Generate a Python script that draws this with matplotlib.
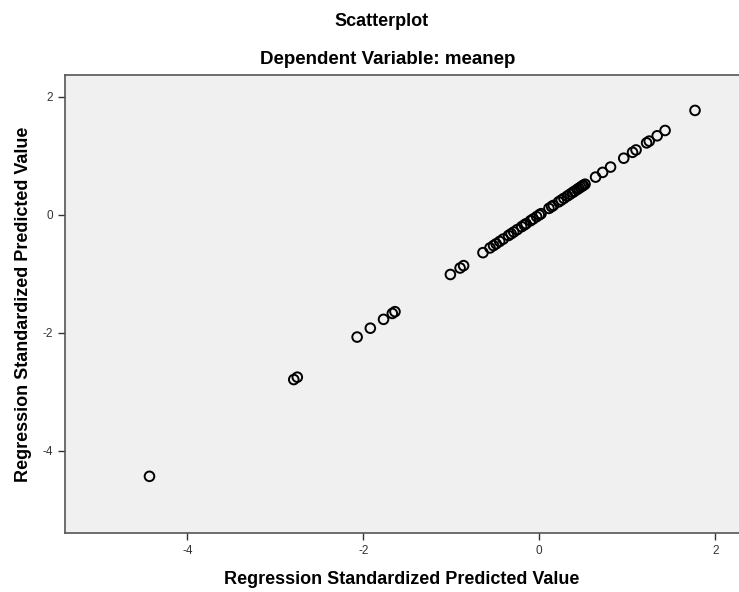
import matplotlib
matplotlib.use("Agg")
import matplotlib.pyplot as plt

# standardized predicted values (plotted against themselves)
pred_x = [-4.43, -2.79, -2.75, -2.07, -1.92, -1.77, -1.67, -1.64,
          -1.01, -0.90, -0.86, -0.64, -0.56, -0.52, -0.49, -0.45, -0.41,
          -0.35, -0.32, -0.29, -0.25, -0.20, -0.17, -0.15, -0.10, -0.07,
          -0.03, 0.00, 0.02, 0.11, 0.14, 0.16, 0.22, 0.25, 0.28, 0.32,
          0.35, 0.38, 0.40, 0.43, 0.45, 0.47, 0.49, 0.50, 0.52,
          0.64, 0.72, 0.81, 0.96, 1.06, 1.10, 1.22, 1.25, 1.34, 1.43, 1.77]
pred_y = list(pred_x)

x_ticks = [-4, -2, 0, 2]
y_ticks = [-4, -2, 0, 2]

plt.rcParams["font.family"] = ["Liberation Sans", "DejaVu Sans"]
fig = plt.figure(figsize=(7.39, 5.92), dpi=100)
ax = fig.add_axes([65 / 739, 1 - 533 / 592, 674 / 739, 458 / 592])
ax.set_facecolor("#f0f0f0")
ax.scatter(pred_x, pred_y, s=48, facecolors="none", edgecolors="black",
           linewidths=1.4, zorder=3)

ax.set_xlim(-5.39, 2.27)
ax.set_ylim(-5.39, 2.37)
ax.set_xticks(x_ticks, [str(t) for t in x_ticks])
ax.set_yticks(y_ticks, [str(t) for t in y_ticks])
ax.tick_params(direction="out", length=5, width=1, labelsize=8.5,
               colors="#333333", labelcolor="#333333")
for side in ("left", "bottom", "top"):
    ax.spines[side].set_color("#555555")
    ax.spines[side].set_linewidth(1.2)
ax.spines["right"].set_visible(False)

ax.set_xlabel("Regression Standardized Predicted Value", fontsize=13,
              fontweight="bold", labelpad=10)
ax.set_ylabel("Regression Standardized Predicted Value", fontsize=13,
              fontweight="bold", labelpad=8)
fig.text(382 / 739, 1 - 22 / 592, "Scatterplot", ha="center", va="center",
         fontsize=13, fontweight="bold")
fig.text(388 / 739, 1 - 59 / 592, "Dependent Variable: meanep", ha="center",
         va="center", fontsize=13.5, fontweight="bold")

fig.savefig("out.png", dpi=100)
